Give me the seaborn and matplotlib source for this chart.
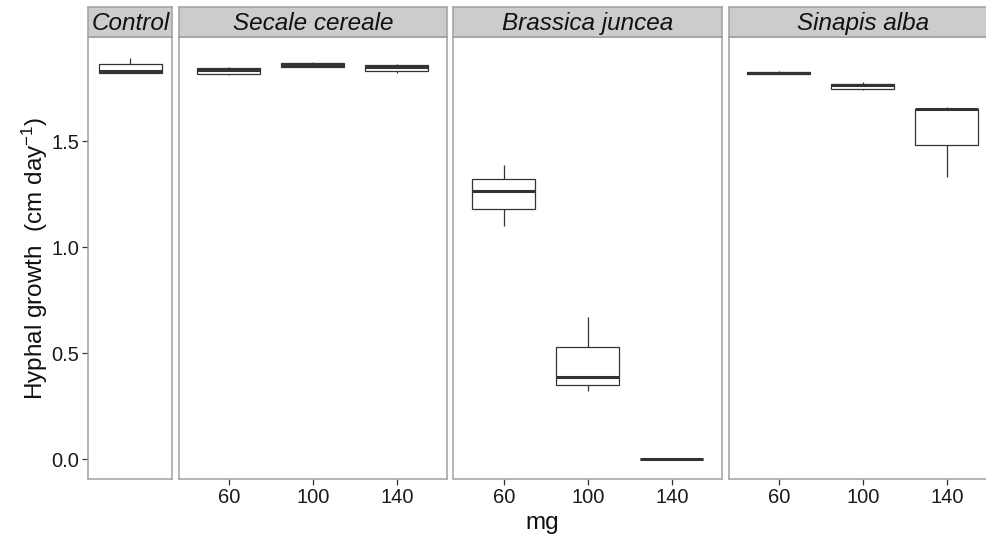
import numpy as np, pandas as pd, matplotlib
matplotlib.use('Agg')
import matplotlib.pyplot as plt
import seaborn as sns

# ── data (five-number summaries) ─────────────────────────────────
PANELS = ['Control', 'Secale cereale', 'Brassica juncea', 'Sinapis alba']
group_panel = ['Control', 'Secale cereale', 'Secale cereale', 'Secale cereale',
               'Brassica juncea', 'Brassica juncea', 'Brassica juncea',
               'Sinapis alba', 'Sinapis alba', 'Sinapis alba']
group_dose = ['', '60', '100', '140', '60', '100', '140', '60', '100', '140']
lo  = [1.822, 1.810, 1.852, 1.822, 1.098, 0.319, 0.0, 1.815, 1.739, 1.329]
q1  = [1.822, 1.816, 1.852, 1.833, 1.180, 0.349, 0.0, 1.815, 1.747, 1.483]
med = [1.830, 1.838, 1.860, 1.852, 1.267, 0.388, 0.0, 1.820, 1.767, 1.651]
q3  = [1.863, 1.844, 1.869, 1.857, 1.322, 0.527, 0.0, 1.825, 1.772, 1.651]
hi  = [1.890, 1.850, 1.875, 1.863, 1.387, 0.671, 0.0, 1.832, 1.780, 1.660]
YTICKS = [0.0, 0.5, 1.0, 1.5]

rows = []
for i in range(len(group_panel)):
    for v in (lo[i], q1[i], med[i], q3[i], hi[i]):
        rows.append({'panel': group_panel[i], 'dose': group_dose[i], 'value': v})
df = pd.DataFrame(rows)

sns.set_theme(style='white')
plt.rcParams['font.family'] = ['Liberation Sans', 'DejaVu Sans']
plt.rcParams['mathtext.fontset'] = 'custom'
plt.rcParams['mathtext.rm'] = 'Liberation Sans'
plt.rcParams['mathtext.it'] = 'Liberation Sans:italic'

W, H = 987, 546
fig = plt.figure(figsize=(W/100, H/100), dpi=100)
fig.patch.set_facecolor('white')

# layout in pixels
unit = 84.0
widths = [1.0, 3.2, 3.2, 3.2]
gap = 6.2
left0, top_p, bot_p, top_s = 88.3, 37.3, 479.3, 7.0
BORDER = '#a0a0a0'
DARK = '#333333'

x = left0
for k, name in enumerate(PANELS):
    wpx = widths[k]*unit
    ax = fig.add_axes([x/W, 1-bot_p/H, wpx/W, (bot_p-top_p)/H])
    sub = df[df.panel == name]
    order = list(dict.fromkeys(sub.dose))
    sns.boxplot(data=sub, x='dose', y='value', order=order, ax=ax, color='white',
                linecolor=DARK, linewidth=0.9, width=0.75, whis=1.5,
                showcaps=False, fliersize=0,
                medianprops=dict(linewidth=2.2, color=DARK))
    n = len(order)
    if n == 1:
        ax.set_xlim(-0.5, 0.5)
        ax.set_xticks([])
    else:
        ax.set_xlim(-0.6, n-0.4)
    ax.set_ylim(-0.0955, 1.99)
    ax.set_xlabel(''); ax.set_ylabel('')
    if k == 0:
        ax.set_yticks(YTICKS)
        ax.set_yticklabels([f'{t:.1f}' for t in YTICKS])
    else:
        ax.set_yticks([])
    ax.tick_params(axis='both', length=4.5, width=0.9, color=DARK, labelsize=14.5,
                   labelcolor='#1a1a1a', pad=2, left=(k == 0), bottom=(n > 1))
    for s in ax.spines.values():
        s.set_color(BORDER); s.set_linewidth(1.1)
    ax.set_facecolor('white')

    # strip
    sx = fig.add_axes([x/W, 1-top_p/H, wpx/W, (top_p-top_s)/H])
    sx.set_facecolor('#cccccc')
    sx.set_xticks([]); sx.set_yticks([])
    for s in sx.spines.values():
        s.set_color(BORDER); s.set_linewidth(1.1)
    sx.text(0.5, 0.45, name, ha='center', va='center', fontsize=17.5,
            style='italic', color='#111111', transform=sx.transAxes)
    x += wpx + gap

fig.text(35/W, 1-(top_p+bot_p)/2/H, r'Hyphal growth  (cm day$^{-1}$)', rotation=90,
         ha='center', va='center', fontsize=17.5, color='#111111')
fig.text(542/W, 1-523/H, 'mg', ha='center', va='center', fontsize=17.5, color='#111111')

fig.savefig('out.png', dpi=100)
